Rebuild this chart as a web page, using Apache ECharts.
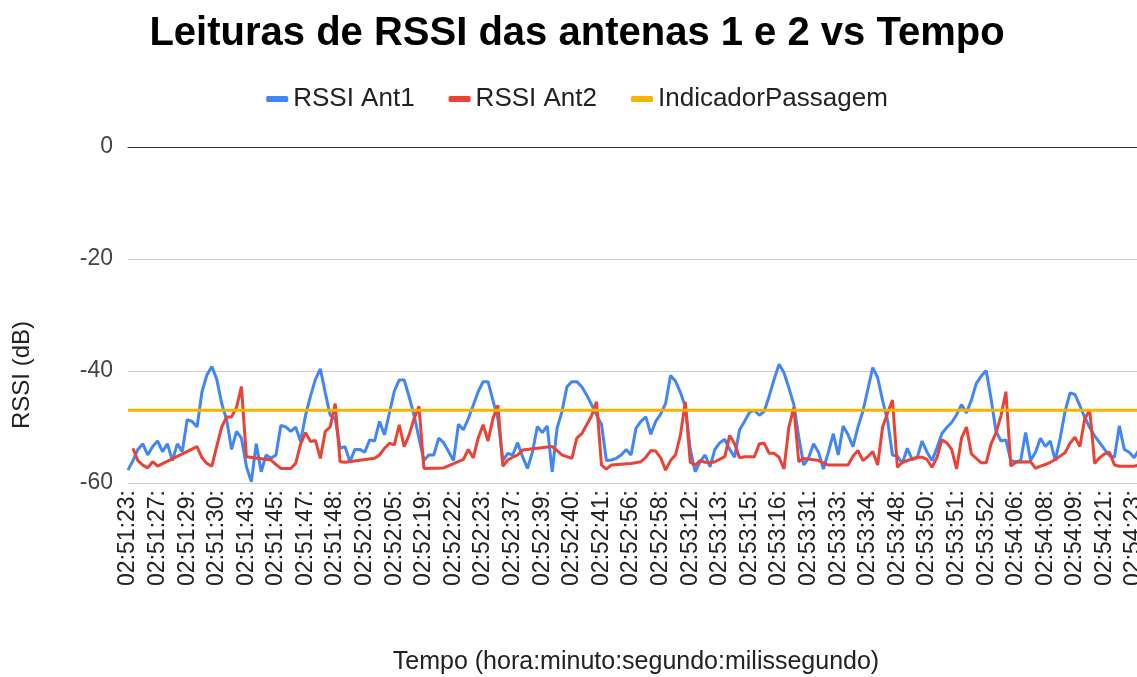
<!DOCTYPE html>
<html>
<head>
<meta charset="utf-8">
<script src="https://cdn.jsdelivr.net/npm/echarts@6/dist/echarts.min.js"></script>
<style>
  html, body { margin: 0; padding: 0; background: #fff; overflow: hidden; }
  #chart { width: 1154px; height: 677px; }
</style>
</head>
<body>
<div id="chart"></div>
<script>
// rótulos do eixo X (um a cada 6 leituras)
var tickLabels = ['02:51:23:', '02:51:27:', '02:51:29:', '02:51:30:', '02:51:43:', '02:51:45:', '02:51:47:', '02:51:48:',
  '02:52:03:', '02:52:05:', '02:52:19:', '02:52:22:', '02:52:23:', '02:52:37:', '02:52:39:', '02:52:40:', '02:52:41:',
  '02:52:56:', '02:52:58:', '02:53:12:', '02:53:13:', '02:53:15:', '02:53:16:', '02:53:31:', '02:53:33:', '02:53:34:',
  '02:53:48:', '02:53:50:', '02:53:51:', '02:53:52:', '02:54:06:', '02:54:08:', '02:54:09:', '02:54:21:', '02:54:23:'];
var pointsPerLabel = 6;

var rssiAnt1 = [
  -57.7, -56, -54, -53, -55, -53.5, -52.5, -54.4, -53, -56,
  -53, -54.4, -48.7, -49, -50, -43.7, -40.7, -39.2, -41.5, -45.8,
  -48.7, -54, -50.8, -52, -57, -59.8, -53, -58, -55, -55.6,
  -55, -49.7, -50, -50.8, -50, -52.6, -47.9, -44.5, -41.5, -39.6,
  -43.9, -47.9, -48.5, -53.8, -53.5, -56.2, -54, -54, -54.5, -52.3,
  -52.5, -49, -51.4, -47.5, -43.6, -41.6, -41.6, -44.6, -47.9, -52,
  -56, -55, -55, -52, -52.8, -54.4, -56, -49.5, -50.5, -48.5,
  -46.1, -43.7, -41.9, -41.9, -45.3, -48.5, -56, -54.7, -55, -52.8,
  -55.3, -57.4, -54.5, -49.9, -51, -49.8, -58, -50.2, -47.2, -42.8,
  -41.9, -41.9, -42.8, -44.3, -46, -47.9, -49.5, -56, -55.9, -55.6,
  -55, -54, -55, -50.2, -49, -48.2, -51.3, -49, -47.7, -45.8,
  -40.8, -41.8, -43.8, -46.4, -54, -58, -56.2, -55, -57.1, -54,
  -52.8, -52.2, -54, -55.4, -50.5, -49, -47.4, -47, -47.9, -47.2,
  -44.5, -41.5, -38.8, -40.3, -43, -46, -51.8, -56.8, -55.5, -53,
  -54.5, -57.5, -54.5, -51.2, -55, -49.8, -51.4, -53.5, -50, -47.2,
  -43.3, -39.4, -41.2, -45.3, -48.8, -55, -55.2, -56.5, -53.8, -55.8,
  -55.5, -52.5, -54.5, -56, -53.8, -51.2, -50.1, -49.2, -47.8, -46,
  -47.5, -45.2, -42.2, -40.9, -39.9, -45, -50.8, -52.5, -52.3, -56,
  -56.2, -56, -51, -56, -54.5, -52, -53.5, -52.5, -56, -52,
  -47.2, -43.9, -44.2, -46.2, -48.3, -50.1, -51.6, -52.8, -54, -55.1,
  -55.4, -49.8, -54, -54.5, -55.5, -54, -55
];

var rssiAnt2 = [
  null, -53.8, -56, -56.8, -57.3, -56.2, -57, null, null, null,
  null, null, null, null, -53.5, -55.5, -56.5, -57, -53.4, -50,
  -48.2, -48.2, -46.5, -42.8, -55.3, null, null, null, null, -55.9,
  -56.7, -57.4, null, -57.4, -56.5, -53, -51, -52.6, -52.4, -55.6,
  -50.8, -50, -45.8, -56.2, -56.3, null, null, null, null, null,
  -55.6, -55, -53.8, -52.9, -53.2, -49.6, -53.5, -51.4, -48.5, -46.3,
  -57.4, null, null, null, -57.3, null, null, null, -55.8, -54,
  -55.5, -52, -49.6, -52.5, -48.5, -46.1, -57, -55.9, -55.4, -55,
  -54.1, null, null, null, null, null, -53.5, -54.2, -55, -55.3,
  -55.6, -52, -51.2, -49.6, -48, -45.5, -56.8, -57.5, -56.8, null,
  null, null, -56.5, null, -56.2, -55.4, -54.2, -54.3, -55.5, -57.7,
  -56, -55, -51.5, -45.5, -56.3, -56.8, -56, -56.3, -56.4, -56.2,
  null, -55.3, -51.5, -53, -55.5, -55.3, null, -55.3, -53, -52.9,
  -54.7, -54.7, -55.4, -57.5, -50, -46.5, -56.2, -55.6, null, null,
  -56, null, -56.8, null, null, null, -56.8, -55.2, -54.2, -56,
  -55.3, -54.4, -56.8, -50, -47.5, -45.2, -57.2, -56.3, null, null,
  -55.4, -55.4, -55.8, -57.2, -55.5, -52.3, -52.8, -54, -57.5, -52,
  -50, -54.8, -55.6, -56.4, -56.4, -53, -51, -48, -43.7, -57,
  -56.3, null, null, -56.2, -57.4, -57, -56.7, -56.3, -55.8, -55.2,
  -54.6, -52.9, -51.8, -53.5, -48.5, -47, -56.5, -55.5, -54.8, -54.5,
  -56.8, -57, null, null, -57, -56.8, -56.8
];

// indicador de passagem (constante)
var indicadorValor = -47;

var categorias = [];
var indicador = [];
for (var i = 0; i < rssiAnt1.length; i++) {
  var k = i / pointsPerLabel;
  categorias.push(i % pointsPerLabel === 0 && tickLabels[k] ? tickLabels[k] : '');
  indicador.push(indicadorValor);
}

var myChart = echarts.init(document.getElementById('chart'));
var option = {
  animation: false,
  textStyle: { fontFamily: 'Arial, "Liberation Sans", sans-serif' },
  title: {
    text: 'Leituras de RSSI das antenas 1 e 2 vs Tempo',
    left: 'center',
    top: 9,
    textStyle: { fontSize: 40, fontWeight: 'bold', color: '#000' }
  },
  legend: {
    top: 81,
    left: 'center',
    itemGap: 34,
    itemWidth: 22,
    itemHeight: 6,
    icon: 'roundRect',
    textStyle: { fontSize: 26, color: '#222' },
    data: ['RSSI Ant1', 'RSSI Ant2', 'IndicadorPassagem']
  },
  grid: {
    left: 128,
    right: 10,
    top: 147,
    bottom: 194,
    containLabel: false
  },
  xAxis: [
    {
      type: 'category',
      boundaryGap: false,
      data: categorias,
      name: 'Tempo (hora:minuto:segundo:milissegundo)',
      nameLocation: 'middle',
      nameGap: 167,
      nameTextStyle: { fontSize: 25, color: '#222' },
      axisLine: { show: true, lineStyle: { color: '#ccc' } },
      axisTick: { show: false },
      axisLabel: { interval: 0, rotate: 90, fontSize: 23, color: '#222', margin: 7 }
    },
    {
      // linha do zero (topo)
      type: 'category',
      position: 'top',
      boundaryGap: false,
      data: categorias,
      axisLine: { show: true, lineStyle: { color: '#333' } },
      axisTick: { show: false },
      axisLabel: { show: false }
    }
  ],
  yAxis: {
    type: 'value',
    min: -60,
    max: 0,
    interval: 20,
    name: 'RSSI (dB)',
    nameLocation: 'middle',
    nameGap: 94,
    nameTextStyle: { fontSize: 24, color: '#222', padding: [0, 120, 0, 0] },
    axisLine: { show: false },
    axisTick: { show: false },
    axisLabel: { fontSize: 23, color: '#444', margin: 15 },
    splitLine: { lineStyle: { color: '#ccc', width: 1 } }
  },
  series: [
    {
      name: 'RSSI Ant1',
      type: 'line',
      data: rssiAnt1,
      showSymbol: false,
      color: '#4285f4',
      lineStyle: { width: 3 }
    },
    {
      name: 'RSSI Ant2',
      type: 'line',
      data: rssiAnt2,
      connectNulls: true,
      showSymbol: false,
      color: '#ea4335',
      lineStyle: { width: 3 }
    },
    {
      name: 'IndicadorPassagem',
      type: 'line',
      data: indicador,
      showSymbol: false,
      color: '#f4b400',
      lineStyle: { width: 3 }
    }
  ]
};
myChart.setOption(option);
window.onresize = myChart.resize;
</script>
</body>
</html>
